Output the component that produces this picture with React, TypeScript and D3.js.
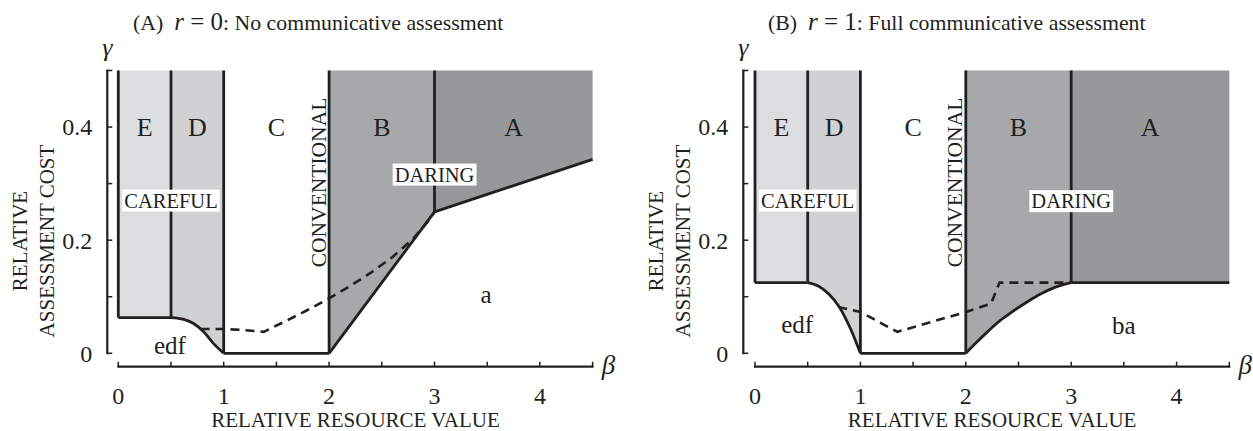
import React, { useRef, useEffect } from "react";
import * as d3 from "d3";

type Pt = [number, number];

const W = 1253;
const H = 431;

// axis ticks
const betaLabels = [0, 1, 2, 3, 4];
const betaTicks = [0, 0.5, 1, 1.5, 2, 2.5, 3, 3.5, 4, 4.5];
const gammaLabels = [0, 0.2, 0.4];
const gammaTicks = [0, 0.1, 0.2, 0.3, 0.4, 0.5];
const regionLetters = ["E", "D", "C", "B", "A"];
const regionBeta = [0.25, 0.75, 1.5, 2.5, 3.75];

// (A) r = 0
const floorA: Pt[] = [[0, 0.063], [0.5, 0.063]];
const curveA: Pt[] = [[0.5, 0.063], [0.56, 0.062], [0.62, 0.06], [0.71, 0.053], [0.81, 0.038], [0.9, 0.018], [1, 0]];
const flatA: Pt[] = [[1, 0], [2, 0]];
const daringA: Pt[] = [[2, 0], [3, 0.25]];
const highA: Pt[] = [[3, 0.25], [4.5, 0.343]];
const dashedA: Pt[] = [
  [0.78, 0.043], [1.0, 0.043], [1.2, 0.041], [1.38, 0.038], [1.6, 0.058], [1.8, 0.077],
  [2.0, 0.097], [2.2, 0.119], [2.4, 0.143], [2.6, 0.17], [2.8, 0.203], [2.93, 0.232], [3, 0.25],
];
const dividersA: Pt[] = [[0, 0.063], [0.5, 0.063], [1, 0], [2, 0], [3, 0.25]];

// (B) r = 1
const floorB: Pt[] = [[0, 0.125], [0.5, 0.125]];
const curveB: Pt[] = [[0.5, 0.125], [0.6, 0.119], [0.7, 0.105], [0.8, 0.082], [0.9, 0.046], [1, 0]];
const flatB: Pt[] = [[1, 0], [2, 0]];
const daringB: Pt[] = [
  [2, 0], [2.1, 0.019], [2.2, 0.037], [2.3, 0.054], [2.4, 0.068], [2.5, 0.081],
  [2.6, 0.093], [2.7, 0.104], [2.8, 0.113], [2.9, 0.12], [3, 0.125],
];
const highB: Pt[] = [[3, 0.125], [4.5, 0.125]];
const dashedB: Pt[] = [[0.79, 0.082], [1.0, 0.073], [1.35, 0.038], [2.0, 0.073], [2.24, 0.088], [2.32, 0.125], [3, 0.125]];
const dividersB: Pt[] = [[0, 0.125], [0.5, 0.125], [1, 0], [2, 0], [3, 0.125]];

const ink = "#231f20";
const font = "'Liberation Serif', 'Times New Roman', serif";
const fills = ["#dcdddf", "#d0d1d3", "#a7a8aa", "#97989a"];

const panels = [
  {
    tag: "(A)", rv: "0", rest: ": No communicative assessment",
    x0: 118.3, axisX: 107.3, titleX: 133,
    floor: floorA, curve: curveA, flat: flatA, daring: daringA, high: highA,
    dashed: dashedA, dividers: dividersA,
    careful: [0.5, 0.27], daringLbl: [3, 0.316], conventional: [1.9, 0.302],
    small: [{ t: "edf", b: 0.49, g: 0.015 }, { t: "a", b: 3.49, g: 0.105 }],
    daringSmooth: false,
  },
  {
    tag: "(B)", rv: "1", rest: ": Full communicative assessment",
    x0: 755, axisX: 743.3, titleX: 768,
    floor: floorB, curve: curveB, flat: flatB, daring: daringB, high: highB,
    dashed: dashedB, dividers: dividersB,
    careful: [0.5, 0.27], daringLbl: [3, 0.269], conventional: [1.9, 0.302],
    small: [{ t: "edf", b: 0.4, g: 0.052 }, { t: "ba", b: 3.5, g: 0.05 }],
    daringSmooth: true,
  },
];

const App: React.FC = () => {
  const svgRef = useRef<SVGSVGElement | null>(null);

  useEffect(() => {
    if (!svgRef.current) return;
    const svg = d3.select(svgRef.current);
    svg.selectAll("*").remove();

    panels.forEach((p) => {
      const x = d3.scaleLinear().domain([0, 4.5]).range([p.x0, p.x0 + 4.5 * 105.4]);
      const y = d3.scaleLinear().domain([0, 0.5]).range([353.3, 70.5]);
      const g = svg.append("g").attr("font-family", font).attr("fill", ink);

      const area = (curve: d3.CurveFactory) =>
        d3.area<Pt>().x((d) => x(d[0])).y0(y(0.5)).y1((d) => y(d[1])).curve(curve);
      const line = (curve: d3.CurveFactory) =>
        d3.line<Pt>().x((d) => x(d[0])).y((d) => y(d[1])).curve(curve);

      const smooth = d3.curveCatmullRom.alpha(0.5);
      const daringCurve = p.daringSmooth ? smooth : d3.curveLinear;

      // shaded regions
      g.append("path").attr("d", area(d3.curveLinear)(p.floor)).attr("fill", fills[0]);
      g.append("path").attr("d", area(smooth)(p.curve)).attr("fill", fills[1]);
      g.append("path").attr("d", area(daringCurve)(p.daring)).attr("fill", fills[2]);
      g.append("path").attr("d", area(d3.curveLinear)(p.high)).attr("fill", fills[3]);

      // dashed boundary
      g.append("path")
        .attr("d", line(d3.curveLinear)(p.dashed))
        .attr("fill", "none")
        .attr("stroke", ink)
        .attr("stroke-width", 2.6)
        .attr("stroke-dasharray", "9 6");

      // solid boundaries
      const solid = (d: string | null) =>
        g.append("path").attr("d", d).attr("fill", "none").attr("stroke", ink)
          .attr("stroke-width", 2.8).attr("stroke-linejoin", "round");
      solid(line(d3.curveLinear)(p.floor));
      solid(line(smooth)(p.curve));
      solid(line(d3.curveLinear)(p.flat));
      solid(line(daringCurve)(p.daring));
      solid(line(d3.curveLinear)(p.high));
      p.dividers.forEach((d) => solid(line(d3.curveLinear)([d, [d[0], 0.5]])));

      // y axis
      g.append("line").attr("x1", p.axisX).attr("x2", p.axisX)
        .attr("y1", y(0) + 1).attr("y2", y(0.5) - 1).attr("stroke", ink).attr("stroke-width", 2.2);
      gammaTicks.forEach((t) =>
        g.append("line").attr("x1", p.axisX).attr("x2", p.axisX + 5)
          .attr("y1", y(t)).attr("y2", y(t)).attr("stroke", ink).attr("stroke-width", 1.5));
      gammaLabels.forEach((t) =>
        g.append("text").attr("x", p.axisX - 15).attr("y", y(t))
          .attr("dy", "0.35em").attr("text-anchor", "end").attr("font-size", 24)
          .text(t === 0 ? "0" : d3.format(".1f")(t)));

      // x axis
      const axY = 366.7;
      g.append("line").attr("x1", x(0) - 1).attr("x2", x(4.5) + 1)
        .attr("y1", axY).attr("y2", axY).attr("stroke", ink).attr("stroke-width", 2.2);
      betaTicks.forEach((t) =>
        g.append("line").attr("x1", x(t)).attr("x2", x(t))
          .attr("y1", axY).attr("y2", axY - 5).attr("stroke", ink).attr("stroke-width", 1.5));
      betaLabels.forEach((t) =>
        g.append("text").attr("x", x(t)).attr("y", 403.5).attr("text-anchor", "middle")
          .attr("font-size", 24).text(String(t)));

      // axis symbols and titles
      g.append("text").attr("x", p.axisX).attr("y", 56).attr("text-anchor", "middle")
        .attr("font-size", 26).attr("font-style", "italic").text("γ");
      g.append("text").attr("x", x(4.5) + 16).attr("y", 374).attr("text-anchor", "middle")
        .attr("font-size", 27).attr("font-style", "italic").text("β");
      g.append("text").attr("x", (x(0) + x(4.5)) / 2).attr("y", 427)
        .attr("text-anchor", "middle").attr("font-size", 21).text("RELATIVE RESOURCE VALUE");
      const yt = g.append("g").attr("transform", `translate(${p.axisX - 80},241) rotate(-90)`);
      yt.append("text").attr("text-anchor", "middle").attr("font-size", 21).text("RELATIVE");
      yt.append("text").attr("y", 27).attr("text-anchor", "middle").attr("font-size", 21)
        .text("ASSESSMENT COST");

      // panel title
      const title = g.append("text").attr("x", p.titleX).attr("y", 30).attr("font-size", 21.8);
      title.append("tspan").text(p.tag + "\u00a0 ");
      title.append("tspan").attr("font-style", "italic").attr("font-size", 25).text("r");
      title.append("tspan").attr("font-size", 25).text(" = " + p.rv);
      title.append("tspan").text(p.rest);

      // region letters
      regionLetters.forEach((l, i) =>
        g.append("text").attr("x", x(regionBeta[i])).attr("y", y(0.4)).attr("dy", "0.35em")
          .attr("text-anchor", "middle").attr("font-size", 26).text(l));

      p.small.forEach((s) =>
        g.append("text").attr("x", x(s.b)).attr("y", y(s.g)).attr("dy", "0.35em")
          .attr("text-anchor", "middle").attr("font-size", 25).text(s.t));

      // conventional (rotated)
      g.append("text")
        .attr("transform", `translate(${x(p.conventional[0]) + 7},${y(p.conventional[1])}) rotate(-90)`)
        .attr("text-anchor", "middle").attr("font-size", 21.5).text("CONVENTIONAL");

      // boxed labels
      const boxed = (t: string, b: number, gm: number) => {
        const bg = g.append("g");
        const txt = bg.append("text").attr("x", x(b)).attr("y", y(gm)).attr("dy", "0.35em")
          .attr("text-anchor", "middle").attr("font-size", 20.5).text(t);
        const bb = (txt.node() as SVGTextElement).getBBox();
        bg.insert("rect", "text").attr("x", bb.x - 2).attr("y", y(gm) - 11)
          .attr("width", bb.width + 4).attr("height", 22).attr("fill", "#fff");
      };
      boxed("CAREFUL", p.careful[0], p.careful[1]);
      boxed("DARING", p.daringLbl[0], p.daringLbl[1]);
    });
  }, []);

  return (
    <svg
      ref={svgRef}
      width={W}
      height={H}
      style={{ position: "absolute", left: 0, top: 0, background: "#fff" }}
    />
  );
};

export default App;
